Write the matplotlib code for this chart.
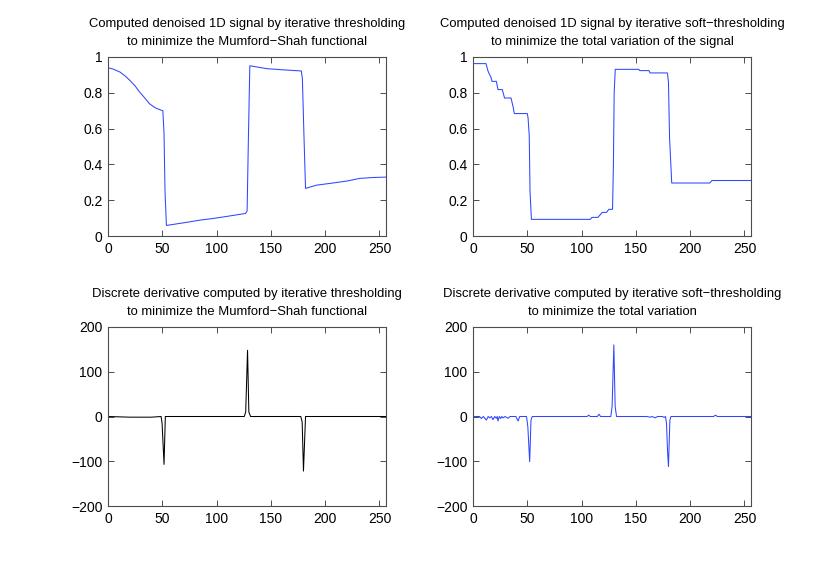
import matplotlib
matplotlib.use("Agg")
import matplotlib.pyplot as plt
import numpy as np

plt.rcParams['font.family'] = ['Liberation Sans', 'DejaVu Sans']

# Mumford-Shah denoised signal (breakpoints)
ms_x = [0, 5, 11, 16, 20, 25, 29, 34, 38, 42, 45, 49, 50.5, 51.6, 52.5, 53.8,
        70, 85, 97, 110, 126.6, 128.1, 129.3, 130.6, 146, 162, 178, 179, 180.5, 181.9,
        192, 207, 220, 232, 245, 256]
ms_y = [0.940, 0.932, 0.916, 0.893, 0.870, 0.838, 0.805, 0.770, 0.740, 0.722, 0.712, 0.703, 0.700, 0.572, 0.25, 0.059,
        0.074, 0.089, 0.098, 0.110, 0.126, 0.140, 0.55, 0.951, 0.935, 0.928, 0.922, 0.88, 0.55, 0.266,
        0.284, 0.296, 0.307, 0.322, 0.327, 0.329]

# total-variation denoised signal
tv_x = [0, 12, 13.8, 15, 16.5, 17.5, 21.5, 23, 27, 28, 29, 35, 37, 38, 50, 50.7, 51.8, 52.5, 53.8,
        108, 109.5, 115, 117, 119, 123, 124, 125, 128.5, 129.3, 130, 131, 152.7, 153.5, 162, 163,
        179, 180, 181, 183, 218, 220, 256]
tv_y = [0.963, 0.963, 0.922, 0.905, 0.888, 0.864, 0.864, 0.818, 0.818, 0.795, 0.771, 0.771, 0.72, 0.684, 0.684, 0.66, 0.56, 0.25, 0.093,
        0.093, 0.104, 0.104, 0.118, 0.132, 0.132, 0.14, 0.149, 0.149, 0.40, 0.80, 0.931, 0.931, 0.924, 0.924, 0.911,
        0.911, 0.86, 0.55, 0.296, 0.296, 0.31, 0.31]

# discrete derivatives
dms_x = [0, 20, 40, 48.9, 49.8, 51.6, 52.8, 70, 125.5, 126.8, 128.5, 129.7, 131.3, 160, 177.5, 178.8, 180.0, 181.9, 200, 256]
dms_y = [0, -1.5, -1.5, 0, -15, -107, 0, 0, 0, 10, 148, 10, 0, 0, 0, -12, -122, 0, 0, 0]

dtv_x = [0, 6, 7.7, 9.5, 12.3, 14, 15.4, 17, 18.4, 20, 21.5, 22.3, 23, 24.2, 25.5, 26.5, 27.7, 29.5, 32.3, 34,
         39.5, 41.5, 43, 49.3, 50.5, 52.2, 53.4, 54.6, 105, 106.6, 108, 114.5, 116, 117.5, 126.9, 128.1,
         129.7, 130.9, 132.2, 160, 163, 165, 167.5, 170, 174.5, 176, 177.3, 178.2, 179.2, 180.0, 181.3, 182.3,
         221.5, 223.4, 225, 256]
dtv_y = [0, 0, -4.5, 0, -8, 0, -3, 0, -7, 0, -4, 0, -10, 0, -4.5, 0, -3, 0, -4, 0,
         0, -10, 0, 0, -23, -101, -8, 0, 0, 3, 0, 0, 5, 0, 0, 22,
         160, 22, 0, 0, -1.5, 0, -3, 0, 0, -2, 0, -16, -80, -112, -8, 0,
         0, 3, 0, 0]

titles = [
    "Computed denoised 1D signal by iterative thresholding\nto minimize the Mumford\u2212Shah functional",
    "Computed denoised 1D signal by iterative soft\u2212thresholding\nto minimize the total variation of the signal",
    "Discrete derivative computed by iterative thresholding\nto minimize the Mumford\u2212Shah functional",
    "Discrete derivative computed by iterative soft\u2212thresholding\nto minimize the total variation",
]

fig = plt.figure(figsize=(8.3, 5.7), dpi=100)
W, H = 830.0, 570.0
boxes = [(108, 57), (473, 57), (108, 327), (473, 327)]
blue = '#2f45ff'
series = [(ms_x, ms_y, blue), (tv_x, tv_y, blue), (dms_x, dms_y, 'k'), (dtv_x, dtv_y, blue)]

for i, ((left, top), (xs, ys, c)) in enumerate(zip(boxes, series)):
    ax = fig.add_axes([left / W, 1 - (top + 179) / H, 278 / W, 179 / H])
    ax.plot(xs, ys, color=c, lw=0.75)
    ax.set_xlim(0, 256)
    ax.set_xticks([0, 50, 100, 150, 200, 250])
    if i < 2:
        ax.set_ylim(0, 1)
        ax.set_yticks([0, 0.2, 0.4, 0.6, 0.8, 1])
        ax.set_yticklabels(['0', '0.2', '0.4', '0.6', '0.8', '1'])
    else:
        ax.set_ylim(-200, 200)
        ax.set_yticks([-200, -100, 0, 100, 200])
    ax.tick_params(direction='in', top=True, right=True, length=4, width=0.7,
                   color='0.3', labelsize=10)
    ax.tick_params(axis='x', pad=4)
    ax.tick_params(axis='y', pad=4)
    for s in ax.spines.values():
        s.set_linewidth(0.8)
        s.set_color('0.3')
    ax.set_title(titles[i], fontsize=9.4, pad=8.5, linespacing=1.7)

fig.savefig("out.png", dpi=100)
